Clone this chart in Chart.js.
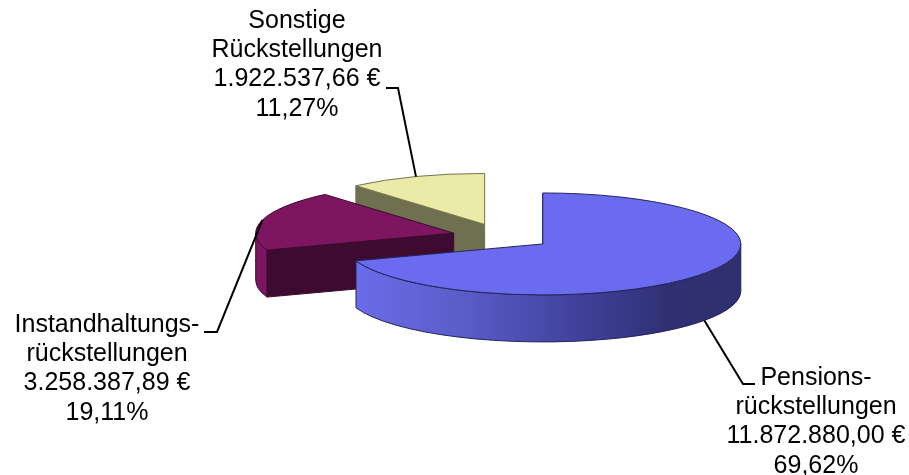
<!DOCTYPE html>
<html lang="de">
<head>
<meta charset="utf-8">
<title>Rückstellungen</title>
<script src="https://cdn.jsdelivr.net/npm/chart.js@4/dist/chart.umd.min.js"></script>
<style>
  html, body { margin: 0; padding: 0; background: #fff; }
  canvas { display: block; }
</style>
</head>
<body>
<canvas id="pie" width="909" height="475"></canvas>
<script>
// data, clockwise from 12 o'clock
const categories = [['Pensions-', 'rückstellungen'], ['Instandhaltungs-', 'rückstellungen'], ['Sonstige', 'Rückstellungen']];
const values = [11872880.00, 3258387.89, 1922537.66];
const valueLabels = ['11.872.880,00 €', '3.258.387,89 €', '1.922.537,66 €'];
const shareLabels = ['69,62%', '19,11%', '11,27%'];

// colours per slice
const topColors = ['#6a6bee', '#7d1560', '#ebeaa6'];
const edgeColors = ['#24245e', '#3a0a2c', '#73744f'];
const rimColors = [null, '#7d1560', '#6f7050'];
const cutColors = ['#3d3d90', '#3d0a30', '#6f7050'];
const rimStops = [[0, '#6c6eec'], [0.3, '#5a5cc8'], [0.6, '#40409a'], [0.82, '#2f3072'], [1, '#30306e']];

// tilt and explosion of the fake 3D pie
const tilt = 0.2575;
const depth = 47;
const explode = 50;

// text blocks and leader elbows
const labelX = [816, 107, 297];
const labelBaseline = [385, 332, 28];
const lineHeight = 29.2;
const leaderElbow = [[[743, 384], [755, 384]], [[217, 332], [204, 332]], [[398, 88], [386, 88]]];

function sliceGeometry(el) {
    const mid = (el.startAngle + el.endAngle) / 2;
    const ox = Math.cos(mid) * explode;
    const oy = Math.sin(mid) * explode;
    return { cx: el.x + ox, cy: el.y + oy * tilt, ox, oy, mid, rx: el.outerRadius, ry: el.outerRadius * tilt };
}

function drawWalls(ctx, el, i) {
    const g = sliceGeometry(el);

    // flat cut face along the start edge
    const sx = g.cx + g.rx * Math.cos(el.startAngle);
    const sy = g.cy + g.ry * Math.sin(el.startAngle);
    ctx.beginPath();
    ctx.moveTo(g.cx, g.cy);
    ctx.lineTo(sx, sy);
    ctx.lineTo(sx, sy + depth);
    ctx.lineTo(g.cx, g.cy + depth);
    ctx.closePath();
    ctx.fillStyle = cutColors[i];
    ctx.strokeStyle = cutColors[i];
    ctx.lineWidth = 1;
    ctx.fill();
    ctx.stroke();

    // outer rim, only the part facing the viewer
    const from = Math.max(el.startAngle, 0);
    const to = Math.min(el.endAngle, Math.PI);
    if (to > from) {
        ctx.beginPath();
        ctx.ellipse(g.cx, g.cy, g.rx, g.ry, 0, from, to, false);
        ctx.ellipse(g.cx, g.cy + depth, g.rx, g.ry, 0, to, from, true);
        ctx.closePath();
        if (rimColors[i]) {
            ctx.fillStyle = rimColors[i];
        } else {
            const grad = ctx.createLinearGradient(g.cx - g.rx, 0, g.cx + g.rx, 0);
            rimStops.forEach(s => grad.addColorStop(s[0], s[1]));
            ctx.fillStyle = grad;
        }
        ctx.fill();
        ctx.strokeStyle = edgeColors[i];
        ctx.stroke();
    }
}

function drawTop(ctx, el, i) {
    const g = sliceGeometry(el);
    // the library draws the arc, squashed and moved out
    ctx.save();
    ctx.translate(g.ox, el.y + g.oy * tilt);
    ctx.scale(1, tilt);
    ctx.translate(0, -el.y);
    el.draw(ctx);
    ctx.restore();

    ctx.beginPath();
    ctx.moveTo(g.cx, g.cy);
    ctx.ellipse(g.cx, g.cy, g.rx, g.ry, 0, el.startAngle, el.endAngle, false);
    ctx.closePath();
    ctx.strokeStyle = edgeColors[i];
    ctx.lineWidth = 1;
    ctx.stroke();
}

function drawLabels(ctx, arcs) {
    arcs.forEach((el, i) => {
        const g = sliceGeometry(el);
        const ax = g.cx + g.rx * Math.cos(g.mid);
        let ay = g.cy + g.ry * Math.sin(g.mid);
        if (g.mid > 0 && g.mid < Math.PI / 2 + 1) ay += depth;

        ctx.beginPath();
        ctx.moveTo(ax, ay);
        leaderElbow[i].forEach(p => ctx.lineTo(p[0], p[1]));
        ctx.strokeStyle = '#000';
        ctx.lineWidth = 2;
        ctx.stroke();

        const lines = [...categories[i], valueLabels[i], shareLabels[i]];
        ctx.fillStyle = '#000';
        ctx.font = '25px "Liberation Sans", Arial, sans-serif';
        ctx.textAlign = 'center';
        ctx.textBaseline = 'alphabetic';
        lines.forEach((t, n) => ctx.fillText(t, labelX[i], labelBaseline[i] + n * lineHeight));
    });
}

const pie3d = {
    id: 'pie3d',
    beforeDatasetsDraw(chart) {
        const ctx = chart.ctx;
        const arcs = chart.getDatasetMeta(0).data;
        // back to front, so the big slice ends up on top
        for (let i = arcs.length - 1; i >= 0; i--) {
            ctx.save();
            drawWalls(ctx, arcs[i], i);
            drawTop(ctx, arcs[i], i);
            ctx.restore();
        }
        drawLabels(ctx, arcs);
        return false;
    }
};

new Chart(document.getElementById('pie'), {
    type: 'pie',
    data: {
        labels: categories.map(c => c.join(' ')),
        datasets: [{
            data: values,
            backgroundColor: topColors,
            borderWidth: 0
        }]
    },
    options: {
        responsive: false,
        animation: false,
        radius: 198,
        layout: { padding: { left: 95, bottom: 2 } },
        plugins: { legend: { display: false }, tooltip: { enabled: false } }
    },
    plugins: [pie3d]
});
</script>
</body>
</html>
